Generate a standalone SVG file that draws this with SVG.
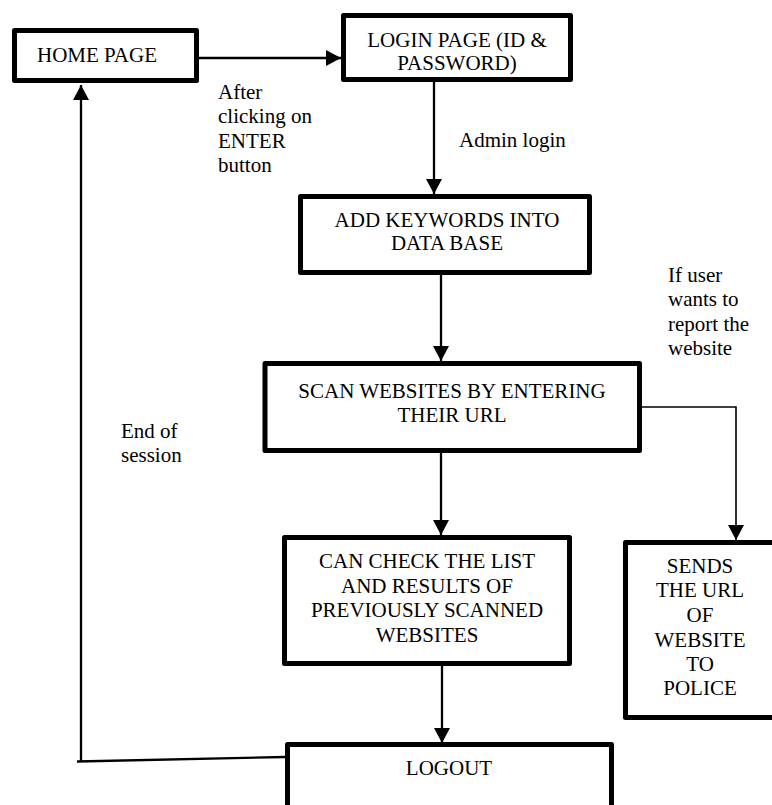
<svg xmlns="http://www.w3.org/2000/svg" width="772" height="805" viewBox="0 0 772 805">
<defs>
<style>
.box{fill:#fff;stroke:#000;stroke-width:5;stroke-linejoin:round}
text{font-family:'Liberation Serif','Times New Roman',Times,'DejaVu Serif',serif;font-size:21px;fill:#000}
.c{text-anchor:middle}
.ln{fill:none;stroke:#000;stroke-width:2.3}
.thin{fill:none;stroke:#000;stroke-width:1.6}
</style>
<marker id="ah" markerUnits="userSpaceOnUse" markerWidth="15" markerHeight="16" viewBox="0 0 15 16" refX="15" refY="8" orient="auto">
<path d="M0,0 L15,8 L0,16 z" fill="#000"/>
</marker>
</defs>
<rect width="772" height="805" fill="#fff"/>
<g id="connectors">
<line class="ln" x1="199" y1="58" x2="341" y2="58" marker-end="url(#ah)"/>
<line class="ln" x1="434" y1="82" x2="434" y2="194" marker-end="url(#ah)"/>
<line class="ln" x1="441" y1="275" x2="441" y2="361" marker-end="url(#ah)"/>
<line class="ln" x1="441" y1="453" x2="441" y2="535" marker-end="url(#ah)"/>
<line class="ln" x1="442" y1="666" x2="442" y2="743" marker-end="url(#ah)"/>
<polyline class="thin" points="642,407 736,407 736,540" marker-end="url(#ah)"/>
<path class="ln" d="M285,757 L77,761.5"/>
<line class="ln" x1="81" y1="761" x2="81" y2="85" marker-end="url(#ah)"/>
</g>
<g id="home">
<rect class="box" x="14.5" y="30.5" width="182" height="50"/>
<text x="37" y="62" font-family="Liberation Serif, serif">HOME PAGE</text>
</g>
<g id="login">
<rect class="box" x="343.5" y="15.5" width="227" height="64"/>
<text class="c" x="457" y="47">LOGIN PAGE (ID &amp;</text>
<text class="c" x="457" y="70">PASSWORD)</text>
</g>
<g id="addkeywords">
<rect class="box" x="300.5" y="196.5" width="289" height="76"/>
<text class="c" x="447" y="227">ADD KEYWORDS INTO</text>
<text class="c" x="447" y="250">DATA BASE</text>
</g>
<g id="scan">
<rect class="box" x="265" y="363.5" width="374.5" height="87"/>
<text class="c" x="452" y="398">SCAN WEBSITES BY ENTERING</text>
<text class="c" x="452" y="422">THEIR URL</text>
</g>
<g id="check">
<rect class="box" x="284.5" y="537.5" width="285" height="126"/>
<text class="c" x="427" y="568">CAN CHECK THE LIST</text>
<text class="c" x="427" y="592.5">AND RESULTS OF</text>
<text class="c" x="427" y="617">PREVIOUSLY SCANNED</text>
<text class="c" x="427" y="641.5">WEBSITES</text>
</g>
<g id="police">
<rect class="box" x="625.5" y="542.5" width="155" height="175"/>
<text class="c" x="700" y="573">SENDS</text>
<text class="c" x="700" y="597">THE URL</text>
<text class="c" x="700" y="622">OF</text>
<text class="c" x="700" y="647">WEBSITE</text>
<text class="c" x="700" y="671">TO</text>
<text class="c" x="700" y="695">POLICE</text>
</g>
<g id="logout">
<rect class="box" x="287.5" y="744.5" width="324" height="80"/>
<text class="c" x="449" y="775">LOGOUT</text>
</g>
<g id="labels">
<text x="218" y="99">After</text>
<text x="218" y="123">clicking on</text>
<text x="218" y="148">ENTER</text>
<text x="218" y="172">button</text>
<text x="459" y="147">Admin login</text>
<text x="668" y="282">If user</text>
<text x="668" y="306">wants to</text>
<text x="668" y="331">report the</text>
<text x="668" y="355">website</text>
<text x="121" y="438">End of</text>
<text x="121" y="462">session</text>
</g>
</svg>
